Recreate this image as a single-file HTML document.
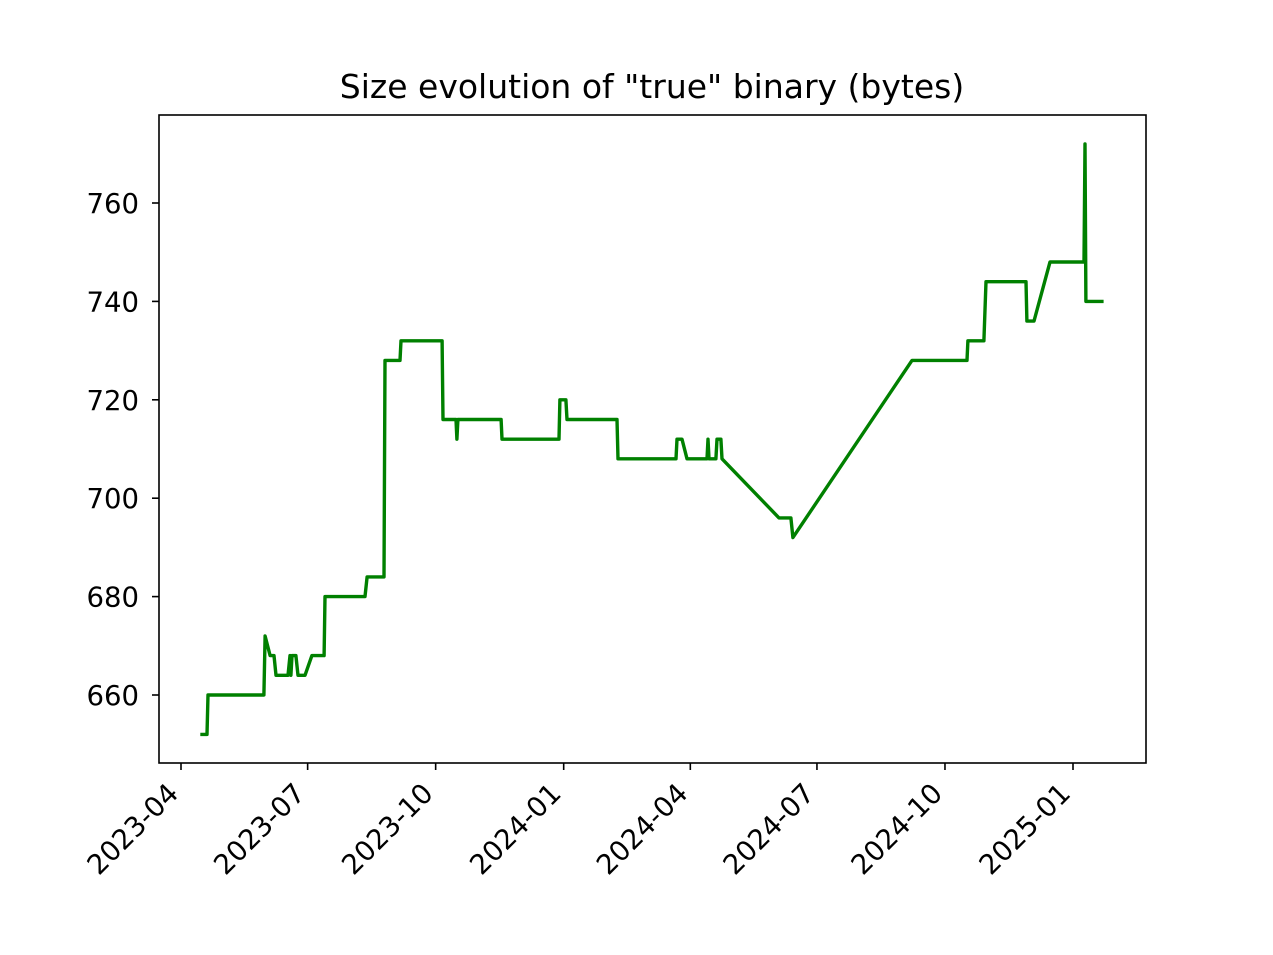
<!DOCTYPE html>
<html><head><meta charset="utf-8"><style>
body{margin:0;background:#fff;}
svg{display:block;font-family:"DejaVu Sans","Liberation Sans",sans-serif;}
</style></head><body>
<svg id="chart" width="1273" height="955" viewBox="0 0 1273 955">
<rect x="0" y="0" width="1273" height="955" fill="#fff"/>
<text x="652" y="98" font-size="33" text-anchor="middle">Size evolution of "true" binary (bytes)</text>
<g id="plot"></g>
<rect x="159" y="115" width="987" height="648" fill="none" stroke="#000" stroke-width="1.6"/>
</svg>
<script>
// days since 2023-04-01
const days = [15.1,18.7,19.4,59.6,60.4,64,66.8,68.3,76.9,78.3,79,79.8,82.6,84.1,89.1,94.1,102.8,103.5,132.2,133.7,145.9,146.6,157.4,158.1,187.6,188.3,197.6,198.3,199,230,230.7,271.6,272.3,276.6,277.4,313.3,314,355.7,356.4,360,363.6,378,378.7,379.4,384.4,385.2,388,388.8,429.7,438.3,439.7,525.3,564.8,565.5,577,578.5,607.2,607.9,613,624.5,648.9,649.6,650.3,661.8];
const sizes = [652,652,660,660,672,668,668,664,664,668,664,668,668,664,664,668,668,680,680,684,684,728,728,732,732,716,716,712,716,716,712,712,720,720,716,716,708,708,712,712,708,708,712,708,708,712,712,708,696,696,692,728,728,732,732,744,744,736,736,748,748,772,740,740];
const xTickDays = [0,91,183,275,366,457,549,641];
const xTickLabels = ["2023-04","2023-07","2023-10","2024-01","2024-04","2024-07","2024-10","2025-01"];
const yTicks = [660,680,700,720,740,760];

const xs = d => 181 + d*892/641;
const ys = v => 695 - (v-660)*4.92;
const NS = "http://www.w3.org/2000/svg";
const g = document.getElementById('plot');
function mk(t, a){const e=document.createElementNS(NS,t);for(const k in a)e.setAttribute(k,a[k]);g.appendChild(e);return e;}

yTicks.forEach(v=>{
  const y=ys(v);
  const t=mk('line',{x1:152,x2:159,y1:y,y2:y,stroke:'#000','stroke-width':1.6});
  
  
  const l=mk('text',{x:139,y:y+10,'font-size':27.5,'text-anchor':'end'});
  l.textContent=v;
  
  
});
xTickDays.forEach((d,i)=>{
  const x=xs(d);
  const t=mk('line',{x1:x,x2:x,y1:763,y2:770,stroke:'#000','stroke-width':1.6});
  
  
  const ax=x-1, ay=795;
  const l=mk('text',{x:ax,y:ay,'font-size':27.5,'text-anchor':'end',transform:`rotate(-45 ${ax} ${ay})`});
  l.textContent=xTickLabels[i];
  
  
});
const pts=days.map((d,i)=>xs(d).toFixed(1)+','+ys(sizes[i]).toFixed(1)).join(' ');
const line=mk('polyline',{points:pts,fill:'none',stroke:'#008000','stroke-width':3.4,'stroke-linejoin':'round','stroke-linecap':'square'});


</script>
</body></html>
